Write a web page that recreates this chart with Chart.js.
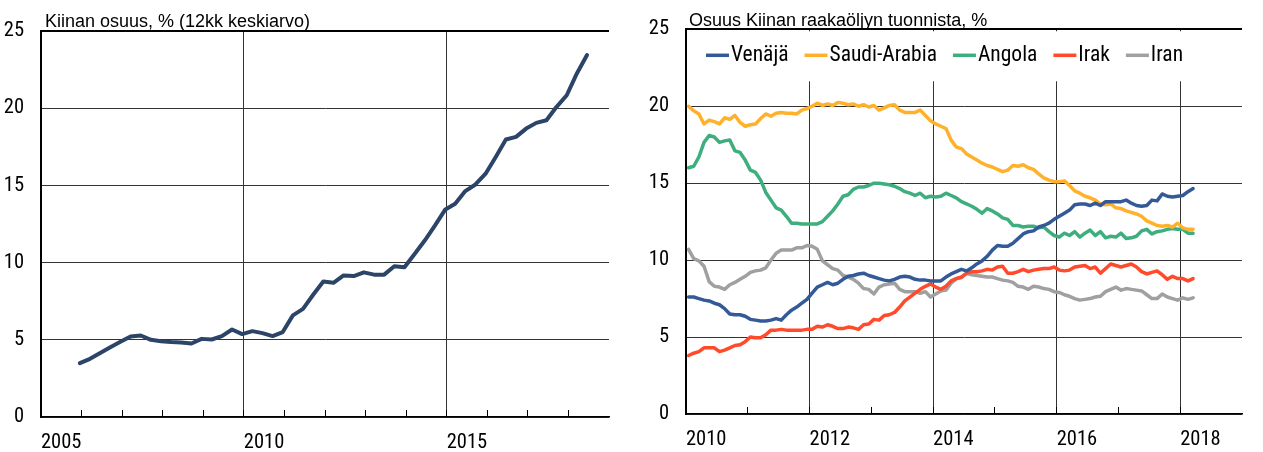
<!DOCTYPE html>
<html>
<head>
<meta charset="utf-8">
<script src="https://cdn.jsdelivr.net/npm/chart.js@4.4.1/dist/chart.umd.min.js"></script>
<style>
  body { margin: 0; background: #fff; width: 1263px; height: 452px; overflow: hidden; position: relative; }
  canvas { position: absolute; top: 0; }
  #share { left: 0; }
  #imports { left: 630px; }
</style>
</head>
<body>
<canvas id="share" width="630" height="452"></canvas>
<canvas id="imports" width="633" height="452"></canvas>
<script>
const regular = "'Liberation Sans', Arial, sans-serif";

// Kiinan osuus, % (12kk keskiarvo) - quarterly, Dec 2005 .. Jun 2018
const shareStart = { year: 2005, month: 12 };
const shareValues = [
  3.49, 3.77, 4.14, 4.52, 4.87, 5.22, 5.28, 5.00, 4.91, 4.85,
  4.83, 4.76, 5.06, 5.02, 5.24, 5.67, 5.37, 5.56, 5.43, 5.24,
  5.50, 6.58, 7.00, 7.92, 8.78, 8.69, 9.17, 9.13, 9.37, 9.22,
  9.22, 9.76, 9.70, 10.56, 11.43, 12.40, 13.42, 13.81, 14.63, 15.06,
  15.76, 16.84, 17.97, 18.14, 18.68, 19.05, 19.22, 20.09, 20.84, 22.25, 23.44
];

// Osuus Kiinan raakaöljyn tuonnista, % - monthly, Jan 2010 .. Mar 2018
const importStart = { year: 2010, month: 1 };
const countries = ['Venäjä', 'Saudi-Arabia', 'Angola', 'Irak', 'Iran'];
const countryColors = ['#335A96', '#FFB12B', '#3EAE7E', '#FF4B2B', '#A0A0A0'];

const russia = [
  7.6, 7.6, 7.5, 7.4, 7.35, 7.2, 7.1, 6.85, 6.5, 6.45, 6.45, 6.35, 6.15, 6.1, 6.05, 6.05, 6.1, 6.2, 6.1, 6.45, 6.75, 6.95, 7.2, 7.45, 7.85,
  8.25, 8.4, 8.55, 8.4, 8.5, 8.75, 8.95, 9.0, 9.1, 9.15, 9.0, 8.9, 8.8, 8.7, 8.65, 8.75, 8.9, 8.95, 8.9, 8.75, 8.7, 8.7, 8.65, 8.65, 8.65,
  8.9, 9.1, 9.25, 9.4, 9.3, 9.5, 9.75, 9.95, 10.25, 10.65, 10.95, 10.9, 10.9, 11.1, 11.4, 11.7, 11.85, 11.9, 12.15, 12.25, 12.4, 12.65, 12.85, 13.05,
  13.25, 13.6, 13.65, 13.65, 13.55, 13.7, 13.55, 13.8, 13.8, 13.8, 13.8, 13.9, 13.7, 13.55, 13.5, 13.55, 13.9, 13.85, 14.3, 14.15, 14.1, 14.15, 14.2, 14.45, 14.65
];
const saudiArabia = [
  20.0, 19.7, 19.5, 18.85, 19.1, 19.0, 18.85, 19.25, 19.15, 19.4, 18.95, 18.7, 18.8, 18.85, 19.2, 19.5, 19.35, 19.55, 19.6, 19.55, 19.55, 19.5, 19.75, 19.85, 20.0,
  20.2, 20.05, 20.15, 20.05, 20.25, 20.2, 20.1, 20.15, 20.0, 20.1, 19.95, 20.05, 19.75, 19.9, 20.05, 20.1, 19.75, 19.6, 19.6, 19.6, 19.75, 19.4, 19.05, 18.85, 18.7,
  18.55, 17.8, 17.35, 17.25, 16.9, 16.7, 16.5, 16.3, 16.15, 16.05, 15.9, 15.75, 15.85, 16.15, 16.1, 16.2, 16.0, 15.9, 15.6, 15.35, 15.2, 15.1, 15.1, 15.15,
  14.85, 14.5, 14.35, 14.15, 14.05, 13.9, 13.65, 13.6, 13.65, 13.4, 13.35, 13.2, 13.1, 13.0, 12.85, 12.55, 12.4, 12.25, 12.2, 12.25, 12.15, 12.4, 12.1, 12.0, 12.0
];
const angola = [
  16.0, 16.1, 16.7, 17.65, 18.1, 18.0, 17.65, 17.75, 17.8, 17.1, 17.0, 16.5, 15.85, 15.7, 15.2, 14.4, 13.9, 13.4, 13.25, 12.85, 12.4, 12.4, 12.35, 12.35, 12.35,
  12.35, 12.5, 12.85, 13.2, 13.65, 14.15, 14.25, 14.6, 14.75, 14.75, 14.85, 15.0, 15.0, 14.95, 14.9, 14.8, 14.65, 14.45, 14.35, 14.2, 14.35, 14.05, 14.15, 14.1, 14.15,
  14.35, 14.2, 14.05, 13.8, 13.65, 13.5, 13.3, 13.05, 13.35, 13.2, 13.0, 12.75, 12.65, 12.25, 12.25, 12.15, 12.2, 12.2, 12.1, 12.15, 11.85, 11.6, 11.5, 11.75,
  11.6, 11.85, 11.5, 11.75, 11.95, 11.6, 11.85, 11.45, 11.55, 11.5, 11.75, 11.4, 11.45, 11.55, 11.9, 12.0, 11.7, 11.85, 11.9, 12.0, 12.05, 12.0, 12.0, 11.75, 11.75
];
const iraq = [
  3.8, 3.95, 4.05, 4.3, 4.3, 4.3, 4.05, 4.15, 4.3, 4.45, 4.5, 4.7, 5.0, 4.95, 4.95, 5.15, 5.45, 5.45, 5.5, 5.45, 5.45, 5.45, 5.45, 5.5, 5.5,
  5.7, 5.65, 5.8, 5.7, 5.55, 5.55, 5.65, 5.6, 5.5, 5.8, 5.85, 6.15, 6.1, 6.4, 6.45, 6.6, 6.95, 7.35, 7.6, 7.85, 8.1, 8.3, 8.45, 8.25, 8.1,
  8.3, 8.65, 8.8, 8.9, 9.15, 9.25, 9.25, 9.3, 9.4, 9.35, 9.55, 9.6, 9.15, 9.15, 9.25, 9.4, 9.25, 9.35, 9.4, 9.45, 9.45, 9.55, 9.35, 9.3,
  9.35, 9.55, 9.6, 9.65, 9.45, 9.55, 9.15, 9.45, 9.75, 9.65, 9.55, 9.65, 9.75, 9.55, 9.25, 9.1, 9.2, 9.3, 9.05, 8.75, 8.95, 8.8, 8.8, 8.65, 8.8
];
const iran = [
  10.7, 10.1, 9.95, 9.6, 8.6, 8.3, 8.25, 8.1, 8.4, 8.55, 8.75, 8.95, 9.2, 9.3, 9.35, 9.5, 10.0, 10.45, 10.65, 10.65, 10.65, 10.8, 10.8, 10.95, 10.9,
  10.7, 9.95, 9.7, 9.45, 9.35, 9.0, 8.9, 8.75, 8.5, 8.15, 8.1, 7.8, 8.25, 8.4, 8.45, 8.5, 8.1, 7.95, 7.95, 7.95, 7.85, 7.95, 7.6, 7.8, 8.0,
  8.05, 8.5, 8.8, 8.85, 9.15, 9.05, 9.0, 8.95, 8.9, 8.9, 8.8, 8.7, 8.65, 8.55, 8.3, 8.25, 8.1, 8.3, 8.25, 8.15, 8.1, 7.95, 7.9, 7.75,
  7.65, 7.5, 7.4, 7.45, 7.5, 7.6, 7.65, 7.95, 8.1, 8.25, 8.05, 8.15, 8.1, 8.05, 8.0, 7.75, 7.5, 7.5, 7.8, 7.6, 7.5, 7.4, 7.55, 7.45, 7.55
];
const importSeries = [russia, saudiArabia, angola, iraq, iran];

const yTicks = [0, 5, 10, 15, 20, 25];
const shareYearLabels = [2005, 2010, 2015];
const importYearLabels = [2010, 2012, 2014, 2016, 2018];

// the original uses a narrow face: pick the installed face/stretch whose digits
// come closest to its width/height ratio, then size it so "2005" is ~40px wide
function pickNarrow() {
  const c = document.createElement('canvas').getContext('2d');
  const families = ["'Liberation Sans Narrow'", "'Arial Narrow'", "'Open Sans'", "'Noto Sans'",
    'Roboto', 'Inter', "'DejaVu Sans Condensed'", "'Liberation Sans'"];
  const stretches = ['', 'semi-condensed', 'condensed'];
  let best = null;
  for (const f of families) {
    for (const s of stretches) {
      c.font = `${s ? s + ' ' : ''}40px ${f}, monospace`;
      const m = c.measureText('2005');
      if (!m.actualBoundingBoxAscent) continue;
      const err = Math.abs(m.width / m.actualBoundingBoxAscent - 2.6);
      if (!best || err < best.err - 0.02) best = { err, family: f, stretch: s, w: m.width };
    }
  }
  return {
    family: `${best.family}, ${regular}`,
    weight: best.stretch || undefined,
    size: Math.round(40 * 40 / best.w * 2) / 2
  };
}
const tickFont = pickNarrow();
const legendFontString = `${tickFont.weight ? tickFont.weight + ' ' : ''}${tickFont.size + 1}px ${tickFont.family}`;

// month index -> position on a year axis (centre of the month)
function toPoints(values, start, stepMonths) {
  return values.map((v, i) => {
    const m = start.month - 1 + i * stepMonths;
    const year = start.year + Math.floor(m / 12);
    return { x: year + ((m % 12) + 0.5) / 12, y: v };
  });
}

function axes(o) {
  return {
    x: {
      type: 'linear',
      min: o.xMin,
      max: o.xMax,
      afterBuildTicks: s => {
        s.ticks = [];
        for (let y = o.xMin; y <= o.xMax; y++) s.ticks.push({ value: y });
      },
      afterFit: s => { s.height = o.xHeight; },
      grid: {
        color: c => o.gridYears.includes(c.tick.value) ? '#333' : 'rgba(0,0,0,0)',
        lineWidth: 1,
        drawTicks: true,
        tickLength: -7,
        tickWidth: 1,
        tickColor: c => c.tick.value < o.xMax ? '#000' : 'rgba(0,0,0,0)'
      },
      border: { color: '#000', width: 1.5 },
      ticks: {
        autoSkip: false,
        maxRotation: 0,
        align: 'start',
        padding: 21,
        color: '#000',
        font: { family: tickFont.family, size: tickFont.size, weight: tickFont.weight },
        callback: v => o.labelYears.includes(v) ? String(v) : ''
      }
    },
    y: {
      min: 0,
      max: 25,
      afterBuildTicks: s => { s.ticks = yTicks.map(v => ({ value: v })); },
      afterFit: s => { s.width = o.yWidth; },
      grid: {
        color: c => c.tick.value === 25 ? '#000' : '#333',
        lineWidth: c => c.tick.value === 25 ? 2 : 1,
        drawTicks: false
      },
      border: { color: '#000', width: 2 },
      ticks: {
        padding: 17,
        color: '#000',
        font: { family: tickFont.family, size: tickFont.size, weight: tickFont.weight }
      }
    }
  };
}

const heading = {
  id: 'heading',
  afterDraw(chart, args, opts) {
    const ctx = chart.ctx;
    ctx.save();
    ctx.font = '18px ' + regular;
    ctx.fillStyle = '#000';
    ctx.textBaseline = 'alphabetic';
    ctx.fillText(opts.text, opts.x, opts.y);
    ctx.restore();
  }
};

// legend sits inside the plot on a white band, vertical grid stops under it
const insideLegend = {
  id: 'insideLegend',
  beforeDatasetsDraw(chart) {
    const { ctx, chartArea: a } = chart;
    ctx.save();
    ctx.fillStyle = '#fff';
    ctx.fillRect(a.left + 2, a.top + 2, a.right - a.left - 2, 50);
    ctx.font = legendFontString;
    ctx.textBaseline = 'middle';
    let x = a.left + 20;
    const y = a.top + 26;
    chart.data.datasets.forEach(ds => {
      ctx.strokeStyle = ds.borderColor;
      ctx.lineWidth = 3.5;
      ctx.beginPath();
      ctx.moveTo(x, y);
      ctx.lineTo(x + 23, y);
      ctx.stroke();
      ctx.fillStyle = '#000';
      ctx.fillText(ds.label, x + 25, y);
      x += 25 + ctx.measureText(ds.label).width + 16;
    });
    ctx.restore();
  }
};

new Chart(document.getElementById('share'), {
  type: 'line',
  data: {
    datasets: [{
      label: 'Kiinan osuus',
      data: toPoints(shareValues, shareStart, 3),
      borderColor: '#2B4468',
      borderWidth: 4,
      pointRadius: 0,
      tension: 0,
      borderJoinStyle: 'round',
      borderCapStyle: 'round'
    }]
  },
  options: {
    responsive: false,
    animation: false,
    layout: { padding: { top: 31, right: 6, left: 0, bottom: 0 } },
    plugins: {
      legend: { display: false },
      tooltip: { enabled: false },
      heading: { text: 'Kiinan osuus, % (12kk keskiarvo)', x: 45, y: 27 }
    },
    scales: axes({
      xMin: 2005, xMax: 2019, xHeight: 35, yWidth: 41,
      gridYears: [2010, 2015], labelYears: shareYearLabels
    })
  },
  plugins: [heading]
});

new Chart(document.getElementById('imports'), {
  type: 'line',
  data: {
    datasets: countries.map((name, i) => ({
      label: name,
      data: toPoints(importSeries[i], importStart, 1),
      borderColor: countryColors[i],
      borderWidth: 3.5,
      pointRadius: 0,
      tension: 0,
      borderJoinStyle: 'round',
      borderCapStyle: 'round'
    }))
  },
  options: {
    responsive: false,
    animation: false,
    layout: { padding: { top: 29, right: 0, left: 0, bottom: 0 } },
    plugins: {
      legend: { display: false },
      tooltip: { enabled: false },
      heading: { text: 'Osuus Kiinan raakaöljyn tuonnista, %', x: 59, y: 26 }
    },
    scales: axes({
      xMin: 2010, xMax: 2019, xHeight: 38, yWidth: 56,
      gridYears: [2012, 2014, 2016, 2018], labelYears: importYearLabels
    })
  },
  plugins: [heading, insideLegend]
});
</script>
</body>
</html>
